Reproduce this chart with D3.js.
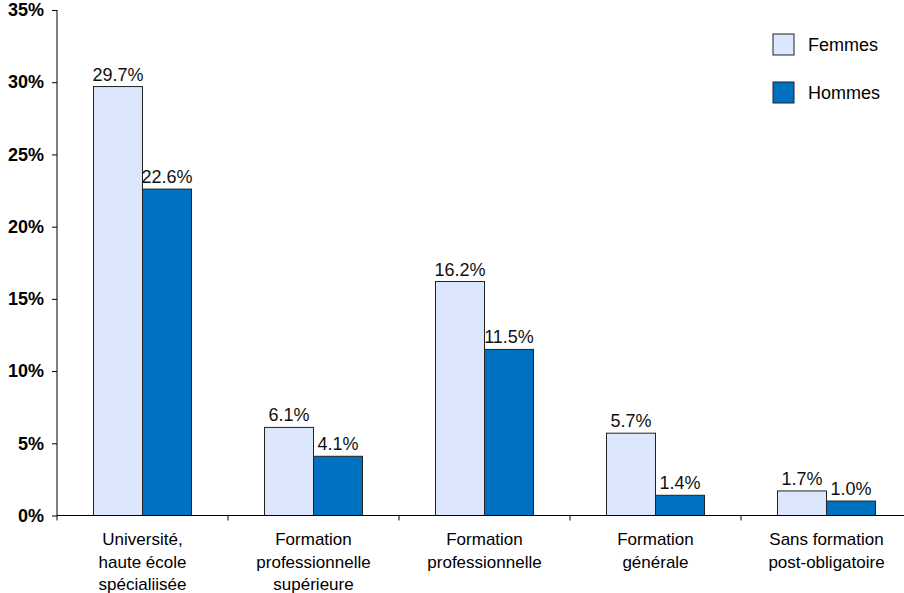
<!DOCTYPE html>
<html><head><meta charset="utf-8">
<script src="https://cdn.jsdelivr.net/npm/d3@7"></script>
<style>body{margin:0;background:#fff}svg{display:block;font-family:"Liberation Sans",Arial,sans-serif}</style>
</head><body><svg id="c" width="904" height="593"></svg>
<script>
const categories = [["Université,","haute école","spécialiisée"],["Formation","professionnelle","supérieure"],["Formation","professionnelle"],["Formation","générale"],["Sans formation","post-obligatoire"]];
const series = ["Femmes","Hommes"];
const femmes = [29.7, 6.1, 16.2, 5.7, 1.7];
const hommes = [22.6, 4.1, 11.5, 1.4, 1.0];
const yTicks = [0,5,10,15,20,25,30,35];
const colors = ["#dce6fc","#0070c0"];

const svg = d3.select("#c");
const x0 = 57, x1 = 912, yTop = 10, yBot = 515.5;
const x = d3.scaleBand().domain(d3.range(categories.length)).range([x0,x1]).paddingInner(0).paddingOuter(0);
const y = d3.scaleLinear().domain([0,35]).range([yBot,yTop]);
const xs = d3.scaleBand().domain(series).range([36.5, x.bandwidth()-36.5]);

// bars
const data = [femmes, hommes];
series.forEach((s,si)=>{
  const g = svg.append("g");
  g.selectAll("rect").data(data[si]).join("rect")
    .attr("x",(d,i)=>x(i)+xs(s)).attr("width",xs.bandwidth())
    .attr("y",d=>y(d)).attr("height",d=>yBot-y(d))
    .attr("fill",colors[si]).attr("stroke","#222").attr("stroke-width",1);
  g.selectAll("text").data(data[si]).join("text")
    .attr("x",(d,i)=>x(i)+xs(s)+xs.bandwidth()/2).attr("y",d=>y(d)-6)
    .attr("text-anchor","middle").attr("font-size",18).attr("fill","#111")
    .text(d=>d.toFixed(1)+"%");
});

// y axis
const ya = svg.append("g").attr("transform",`translate(${x0},0)`)
  .call(d3.axisLeft(y).tickValues(yTicks).tickSize(5).tickPadding(8).tickFormat(d=>d+"%"));
ya.select(".domain").attr("stroke","#000").attr("d",`M-0,${yTop}V${yBot}`);
ya.selectAll(".tick line").attr("stroke","#000");
ya.selectAll(".tick text").attr("font-size",18).attr("font-weight","bold").attr("fill","#000").attr("font-family","Liberation Sans, Arial, sans-serif");

// x axis
const xa = svg.append("g");
xa.append("line").attr("x1",x0).attr("x2",x1).attr("y1",yBot).attr("y2",yBot).attr("stroke","#000");
xa.selectAll("line.t").data(d3.range(categories.length+1)).join("line").attr("class","t")
  .attr("x1",i=>x0+i*x.bandwidth()).attr("x2",i=>x0+i*x.bandwidth())
  .attr("y1",yBot).attr("y2",yBot+5).attr("stroke","#000");
categories.forEach((lines,i)=>{
  const t = xa.append("text").attr("text-anchor","middle").attr("font-size",17).attr("fill","#000");
  lines.forEach((l,li)=>t.append("tspan").attr("x",x(i)+x.bandwidth()/2).attr("y",545+li*22.5).text(l));
});

// legend
series.forEach((s,si)=>{
  const g = svg.append("g").attr("transform",`translate(773,${34+si*48})`);
  g.append("rect").attr("width",21).attr("height",21).attr("fill",colors[si]).attr("stroke","#222");
  g.append("text").attr("x",35).attr("y",17).attr("font-size",18).attr("fill","#000").text(s);
});
</script></body></html>
